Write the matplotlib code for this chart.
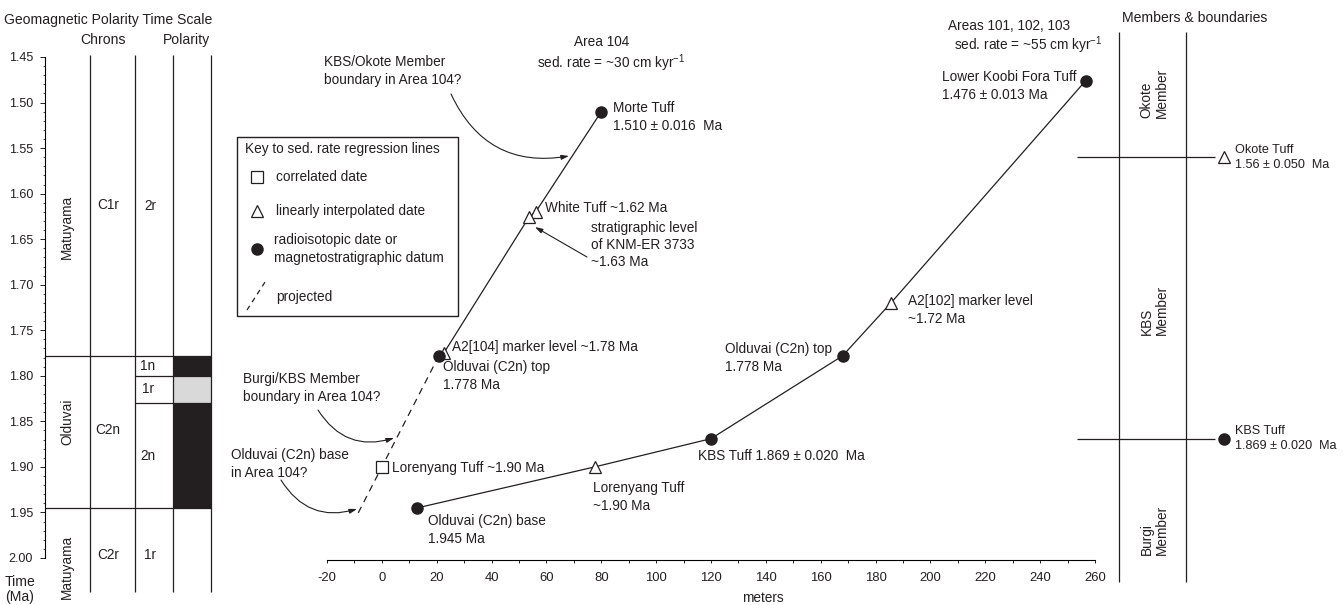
import numpy as np
import matplotlib
matplotlib.use("Agg")
import matplotlib.pyplot as plt
from matplotlib.transforms import Affine2D
from matplotlib.ticker import MultipleLocator, FormatStrFormatter

plt.rcParams.update({
    "font.family": ["Liberation Sans", "DejaVu Sans"],
    "mathtext.fontset": "custom",
    "mathtext.rm": "Liberation Sans",
    "mathtext.default": "regular",
    "axes.unicode_minus": False,
})

INK = "#231f20"
PALE = "#d9d9d9"
FS, FS_T, FS_TK = 9.8, 10.1, 9.0

# --- geomagnetic polarity time scale (Ma) ---
CHRON_BOUNDS = [1.778, 1.945]
SUBCHRON_BOUNDS = [1.800, 1.830]
POL_NAME = ["1n", "1r", "2n"]
POL_TOP = [1.778, 1.800, 1.830]
POL_BASE = [1.800, 1.830, 1.945]

# --- Area 104 regression line (m, Ma) ---
A104_M = [80.0, 56.1, 53.6, 22.6, 20.8]
A104_AGE = [1.510, 1.620, 1.626, 1.775, 1.778]
A104_KIND = ["radio", "interp", "interp", "interp", "radio"]
# projected part below the Olduvai top
PROJ_M = [20.8, 0.0, -8.7]
PROJ_AGE = [1.778, 1.900, 1.951]
PROJ_KIND = [None, "corr", None]

# --- Areas 101, 102, 103 regression line (m, Ma) ---
A101_M = [256.6, 185.6, 168.0, 120.0, 77.6, 12.9]
A101_AGE = [1.476, 1.720, 1.778, 1.869, 1.900, 1.945]
A101_KIND = ["radio", "interp", "radio", "radio", "interp", "radio"]

# --- member boundaries ---
BOUND_TUFF = ["Okote Tuff\n1.56 \u00b1 0.050  Ma", "KBS Tuff\n1.869 \u00b1 0.020  Ma"]
BOUND_AGE = [1.56, 1.869]
BOUND_KIND = ["interp", "radio"]
MEMBERS = ["Okote\nMember", "KBS\nMember", "Burgi\nMember"]

MK = {
    "radio": dict(marker="o", ms=8, mfc=INK, mec=INK),
    "interp": dict(marker="^", ms=8.5, mfc="white", mec=INK, mew=0.9),
    "corr": dict(marker="s", ms=8.2, mfc="white", mec=INK, mew=0.9),
}

W, H = 1343, 605
fig = plt.figure(figsize=(W / 100, H / 100), dpi=100)
# pixel frame, origin top-left, used for labels and call-outs
pix = Affine2D().scale(1 / W, -1 / H).translate(0, 1) + fig.transFigure

Y_TOP, Y_BOT = 1.45, 2.0022      # shared age axis, top 57 px, bottom 560 px
def frame(x0, x1):
    return fig.add_axes([x0 / W, 1 - 560 / H, (x1 - x0) / W, (560 - 57) / H])

def txt(x, y, s, fs=FS, **kw):
    kw.setdefault("va", "center")
    kw.setdefault("ha", "left")
    kw.setdefault("linespacing", 1.3)
    fig.text(x, y, s, transform=pix, fontsize=fs, color=INK, **kw)

# ---------------- GPTS column ----------------
g = frame(45, 211)
g.set_xlim(45, 211); g.set_ylim(Y_BOT, Y_TOP)
for s in ["top", "right", "bottom"]:
    g.spines[s].set_visible(False)
g.spines["left"].set_bounds(1.45, 2.00)
g.spines["left"].set_linewidth(0.8)
g.set_xticks([])
g.yaxis.set_major_locator(MultipleLocator(0.05))
g.yaxis.set_minor_locator(MultipleLocator(0.01))
g.yaxis.set_major_formatter(FormatStrFormatter("%.2f"))
g.set_yticks(np.arange(1.45, 2.001, 0.05))
g.tick_params(axis="y", which="major", length=3.6, width=0.7, pad=5, labelsize=FS_TK, colors=INK)
g.tick_params(axis="y", which="minor", length=1.8, width=0.6, colors=INK)
g.set_ylim(Y_BOT, Y_TOP)

g.vlines([90, 135, 173, 211], 1.448, 2.037, color=INK, lw=0.9, clip_on=False)
g.hlines(CHRON_BOUNDS, 45, 211, color=INK, lw=0.9, clip_on=False)
g.hlines(SUBCHRON_BOUNDS, 135, 211, color=INK, lw=0.9, clip_on=False)
for name, top, base in zip(POL_NAME, POL_TOP, POL_BASE):
    g.bar(192, base - top, bottom=top, width=38, color=INK if name.endswith("n") else PALE,
          lw=0, zorder=0)
    g.text(148, (top + base) / 2, name, ha="center", va="center", fontsize=FS, color=INK)

for lab, y in [("Matuyama", 1.636), ("Olduvai", 1.851), ("Matuyama", 2.010)]:
    g.text(67, y, lab, rotation=90, ha="center", va="center", fontsize=FS, color=INK, clip_on=False)
for lab, y in [("C1r", 1.612), ("C2n", 1.859), ("C2r", 1.997)]:
    g.text(108, y, lab, ha="center", va="center", fontsize=FS, color=INK)
g.text(150, 1.614, "2r", ha="center", va="center", fontsize=FS, color=INK)
g.text(150, 1.997, "1r", ha="center", va="center", fontsize=FS, color=INK)

txt(108, 20, "Geomagnetic Polarity Time Scale", fs=FS_T, ha="center")
txt(103, 40, "Chrons", fs=FS_T, ha="center")
txt(186, 40, "Polarity", fs=FS_T, ha="center")
txt(20, 575, "Time\n(Ma)", fs=FS_T, ha="center", va="top", linespacing=1.05)

# ---------------- sedimentation-rate lines ----------------
ax = frame(327, 1095)
ax.set_xlim(-20, 260); ax.set_ylim(Y_BOT, Y_TOP)
for s in ["top", "right", "left"]:
    ax.spines[s].set_visible(False)
ax.spines["bottom"].set_linewidth(0.8)
ax.set_yticks([])
ax.set_xticks(np.arange(-20, 261, 20))
ax.xaxis.set_minor_locator(MultipleLocator(10))
ax.tick_params(axis="x", which="both", length=2.4, width=0.7, pad=6, labelsize=FS_TK + 0.4, colors=INK)
ax.patch.set_alpha(0)

ax.plot(A104_M, A104_AGE, color=INK, lw=0.9, zorder=2)
ax.plot(PROJ_M, PROJ_AGE, color=INK, lw=0.9, ls=(0, (5.5, 4.2)), zorder=2)
ax.plot(A101_M, A101_AGE, color=INK, lw=0.9, zorder=2)
for ms, ages, kinds in [(A104_M, A104_AGE, A104_KIND), (PROJ_M, PROJ_AGE, PROJ_KIND),
                        (A101_M, A101_AGE, A101_KIND)]:
    for m, a, k in zip(ms, ages, kinds):
        if k:
            ax.plot(m, a, ls="none", zorder=3, clip_on=False, **MK[k])

def callout(x0, y0, x1, y1, rad=0.0):
    ax.annotate("", xy=(x1, y1), xycoords=pix, xytext=(x0, y0), textcoords=pix,
                arrowprops=dict(arrowstyle="-|>,head_length=0.45,head_width=0.14", color=INK,
                                lw=0.8, shrinkA=0, shrinkB=0,
                                connectionstyle=f"arc3,rad={rad}"))

# Area 104 labels
txt(602, 42, "Area 104", ha="center")
txt(537, 63, "sed. rate = ~30 cm kyr$^{-1}$")
txt(324, 71, "KBS/Okote Member\nboundary in Area 104?")
callout(451, 94, 569, 156, 0.38)
txt(613, 117, "Morte Tuff\n1.510 \u00b1 0.016  Ma")
txt(545, 208, "White Tuff ~1.62 Ma")
txt(591, 245, "stratigraphic level\nof KNM-ER 3733\n~1.63 Ma")
callout(587, 257, 535, 227)
txt(452, 347, "A2[104] marker level ~1.78 Ma")
txt(443, 376, "Olduvai (C2n) top\n1.778 Ma")
txt(243, 388, "Burgi/KBS Member\nboundary in Area 104?")
callout(318, 410, 394, 438, 0.38)
txt(231, 464, "Olduvai (C2n) base\nin Area 104?")
callout(281, 480, 357, 509, 0.38)
txt(392, 468, "Lorenyang Tuff ~1.90 Ma")

# Areas 101-103 labels
txt(948, 26, "Areas 101, 102, 103")
txt(954, 45, "sed. rate = ~55 cm kyr$^{-1}$")
txt(942, 86, "Lower Koobi Fora Tuff\n1.476 \u00b1 0.013 Ma")
txt(908, 310, "A2[102] marker level\n~1.72 Ma")
txt(725, 358, "Olduvai (C2n) top\n1.778 Ma")
txt(698, 456, "KBS Tuff 1.869 \u00b1 0.020  Ma")
txt(593, 497, "Lorenyang Tuff\n~1.90 Ma")
txt(428, 530, "Olduvai (C2n) base\n1.945 Ma")
txt(763, 598, "meters", ha="center")

# key box
ax.add_patch(plt.Rectangle((237, 316), 221, -179, transform=pix, fill=False, ec=INK, lw=1.0,
                           clip_on=False))
txt(245, 149, "Key to sed. rate regression lines")
for y, k, s in [(177, "corr", "correlated date"), (211, "interp", "linearly interpolated date"),
                (249, "radio", "radioisotopic date or\nmagnetostratigraphic datum")]:
    ax.plot([257], [y], transform=pix, ls="none", clip_on=False, **MK[k])
    txt(276 if k != "radio" else 274, y, s)
ax.plot([247, 267], [310, 279], transform=pix, color=INK, lw=0.9, ls=(0, (4, 3.5)), clip_on=False)
txt(276, 297, "projected")

# ---------------- members & boundaries ----------------
r = frame(1077, 1343)
r.set_xlim(1077, 1343); r.set_ylim(Y_BOT, Y_TOP)
r.axis("off")
r.vlines([1119, 1186], 1.4226, 2.0263, color=INK, lw=0.9, clip_on=False)
r.hlines(BOUND_AGE, 1077, 1215, color=INK, lw=0.9)
for a, k, s in zip(BOUND_AGE, BOUND_KIND, BOUND_TUFF):
    r.plot(1224, a, ls="none", clip_on=False, **MK[k])
    r.text(1235, a, s, ha="left", va="center", fontsize=9.1, color=INK, linespacing=1.35)
for s, y in zip(MEMBERS, [1.490, 1.728, 1.969]):
    r.text(1154, y, s, rotation=90, ha="center", va="center", multialignment="left",
           fontsize=FS, color=INK, linespacing=1.1)
txt(1195, 18, "Members & boundaries", fs=FS_T, ha="center")

fig.savefig("out.png", dpi=100)
